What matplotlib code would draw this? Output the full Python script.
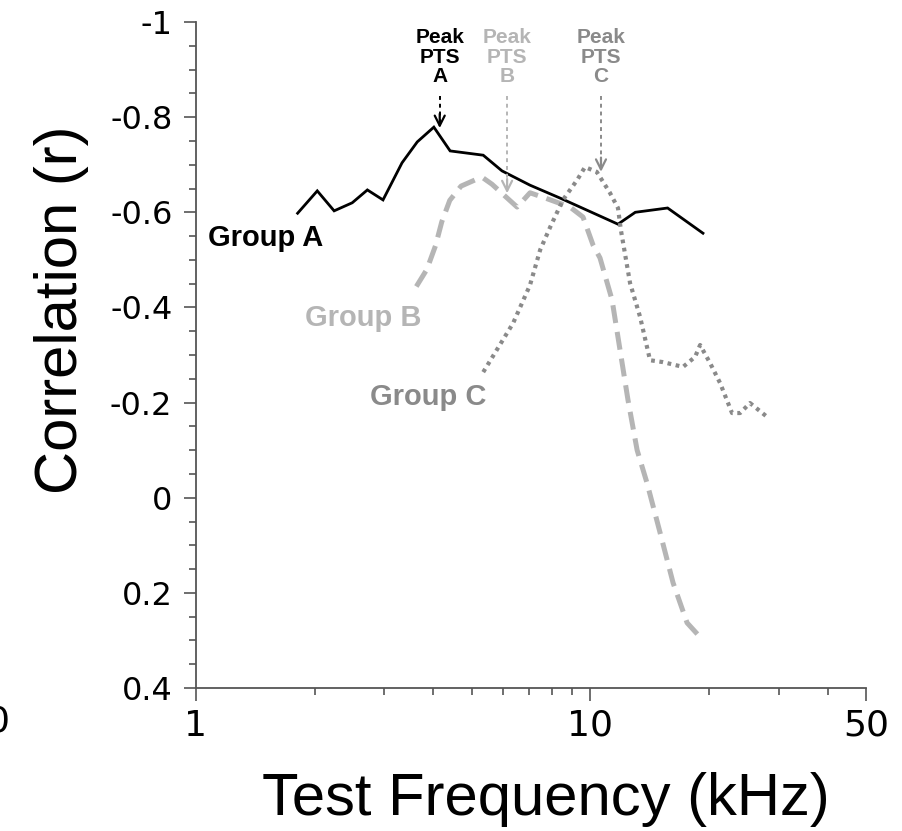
import matplotlib
matplotlib.use("Agg")
import matplotlib.pyplot as plt
from matplotlib.ticker import FixedLocator, NullFormatter

plt.rcParams['font.family'] = ['Liberation Sans', 'DejaVu Sans']
plt.rcParams['axes.unicode_minus'] = False

# ---------------- data ----------------
freq_a = [1.81, 2.03, 2.24, 2.49, 2.72, 2.98, 3.33, 3.64, 4.01, 4.41, 5.35, 5.97,
          7.03, 8.48, 11.75, 13.0, 15.7, 19.3]
corr_a = [-0.598, -0.645, -0.603, -0.620, -0.647, -0.626, -0.704, -0.748, -0.779,
          -0.729, -0.720, -0.687, -0.657, -0.628, -0.575, -0.600, -0.609, -0.556]

freq_b = [3.62, 3.85, 4.05, 4.2, 4.4, 4.7, 5.1, 5.35, 5.63, 6.52, 7.03, 7.68, 8.88,
          9.58, 10.16, 10.58, 11.35, 12.46, 13.14, 13.92, 15.03, 16.21, 17.59, 18.98]
corr_b = [-0.444, -0.480, -0.530, -0.580, -0.625, -0.655, -0.668, -0.672, -0.659,
          -0.611, -0.641, -0.630, -0.611, -0.590, -0.531, -0.504, -0.416, -0.205,
          -0.100, -0.031, 0.074, 0.179, 0.263, 0.293]

freq_c = [5.35, 6.37, 7.03, 7.46, 7.91, 8.52, 9.26, 9.69, 10.38, 11.21, 11.75, 11.95,
          12.61, 13.37, 14.17, 15.29, 17.18, 18.43, 18.98, 20.12, 21.33, 22.87, 23.97,
          25.4, 28.06]
corr_c = [-0.264, -0.367, -0.447, -0.521, -0.569, -0.626, -0.668, -0.695, -0.685,
          -0.641, -0.609, -0.563, -0.451, -0.380, -0.289, -0.285, -0.275, -0.296,
          -0.321, -0.283, -0.241, -0.178, -0.178, -0.199, -0.170]

group_names = ["Group A", "Group B", "Group C"]
peak_labels = ["Peak\nPTS\nA", "Peak\nPTS\nB", "Peak\nPTS\nC"]
peak_freqs = [4.15, 6.15, 10.64]
peak_tips = [-0.777, -0.640, -0.685]

x_ticks = [1, 10, 50]
x_tick_labels = ["1", "10", "50"]
y_ticks = [-1, -0.8, -0.6, -0.4, -0.2, 0, 0.2, 0.4]
y_tick_labels = ["-1", "-0.8", "-0.6", "-0.4", "-0.2", "0", "0.2", "0.4"]

# ---------------- style ----------------
col_a, col_b, col_c = "black", "#b5b5b5", "#8a8a8a"
colors = [col_a, col_b, col_c]

fig = plt.figure(figsize=(9.03, 8.31), dpi=100)
ax = fig.add_axes([196/903, 1-688/831, 670/903, 666/831])

ax.plot(freq_a, corr_a, color=col_a, lw=2.0, solid_joinstyle='miter')
ax.plot(freq_b, corr_b, color=col_b, lw=3.6, linestyle=(0, (3.6, 1.8)),
        dash_capstyle='butt')
ax.plot(freq_c, corr_c, color=col_c, lw=3.0, linestyle=(0, (0.9, 1.1)),
        dash_capstyle='butt')

ax.set_xscale('log')
ax.set_xlim(1, 50)
ax.set_ylim(0.4, -1)

ax.xaxis.set_major_locator(FixedLocator(x_ticks))
ax.set_xticklabels(x_tick_labels, family='DejaVu Sans')
ax.xaxis.set_minor_locator(FixedLocator([2, 3, 4, 5, 6, 7, 8, 9, 20, 30, 40]))
ax.xaxis.set_minor_formatter(NullFormatter())
ax.yaxis.set_major_locator(FixedLocator(y_ticks))
ax.set_yticklabels(y_tick_labels, family='DejaVu Sans')
ax.yaxis.set_minor_locator(FixedLocator([-0.95 + 0.05*i for i in range(28)]))

for s in ['top', 'right']:
    ax.spines[s].set_visible(False)
for s in ['left', 'bottom']:
    ax.spines[s].set_color('#555555')
    ax.spines[s].set_linewidth(1.3)

ax.tick_params(axis='both', which='major', length=9, width=1.2, color='#555555',
               labelsize=23, pad=8)
ax.tick_params(axis='both', which='minor', length=5, width=1.2, color='#555555')
ax.tick_params(axis='x', which='major', pad=6, labelsize=26)

# group labels
label_pos = [(1.072, -0.546), (1.89, -0.378), (2.76, -0.212)]
for name, (lx, ly), c in zip(group_names, label_pos, colors):
    ax.text(lx, ly, name, color=c, fontsize=21, fontweight='bold',
            ha='left', va='center')

# peak annotations
for lab, fx, tip, c in zip(peak_labels, peak_freqs, peak_tips, colors):
    ax.text(fx, -0.926, lab, color=c, fontsize=15, fontweight='bold',
            ha='center', va='center', linespacing=1.05)
    ax.plot([fx, fx], [-0.845, tip - 0.01], color=c, lw=1.4,
            linestyle=(0, (2, 2)))
    ax.annotate("", xy=(fx, tip), xytext=(fx, tip - 0.03),
                arrowprops=dict(arrowstyle='->', color=c, lw=1.6,
                                mutation_scale=18, shrinkA=0, shrinkB=0))

# axis titles
fig.text(546/903, 1-815/831, "Test Frequency (kHz)", fontsize=43,
         ha='center', va='baseline')
fig.text(62/903, 1-310/831, "Correlation (r)", fontsize=43, rotation=90,
         ha='center', va='center')

# fragment of neighbouring panel's tick label
fig.text(10/903, 1-722/831, "50", fontsize=26, family='DejaVu Sans',
         ha='right', va='center')

fig.savefig("out.png", dpi=100)
